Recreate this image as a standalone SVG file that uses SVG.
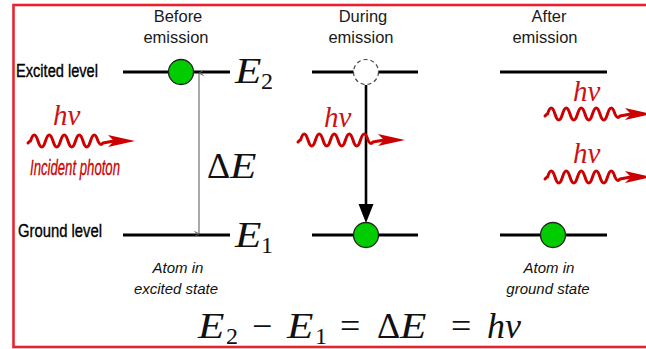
<svg xmlns="http://www.w3.org/2000/svg" width="646" height="349" viewBox="0 0 646 349">
<style>
.lvl{stroke:#000;stroke-width:3;fill:none}
.atom{fill:#00cc00;stroke:#222;stroke-width:1.3}
.hdr{font-family:"Liberation Sans",Arial,sans-serif;font-size:16.5px;fill:#1a1a1a;text-anchor:middle}
.cap{font-family:"Liberation Sans",Arial,sans-serif;font-size:15px;font-style:italic;fill:#111;text-anchor:middle}
.side{font-family:"Liberation Sans",Arial,sans-serif;font-size:17.5px;fill:#000;stroke:#000;stroke-width:0.35}
.math{font-family:"Liberation Serif","Times New Roman",serif;font-size:36px;fill:#111}
.it{font-style:italic}
.sub{font-size:24px}
.hv{font-family:"Liberation Serif","Times New Roman",serif;font-size:29px;font-style:italic;fill:#cc1111}
.wave{fill:none;stroke:#cc0000;stroke-width:3;stroke-linecap:round;stroke-linejoin:round}
</style>
<defs>
<g id="photon">
<path class="wave" d="M0,2 c1,-1 1.5,-2 2.5,-2 c2.5,-8 5,-8 7.5,0 s5,8 7.5,0 s5,-8 7.5,0 s5,8 7.5,0 s5,-8 7.5,0 s5,8 7.5,0 s5,-8 7.5,0 s5,8 7.5,0 s5,-8 7.5,0 c1.5,3.5 3,4.5 5,2 L86,0"/>
<polygon points="107,0 80,-6 86,0 80,6" fill="#cc0000"/>
</g>
<marker id="dh" viewBox="0 0 8 8" refX="4" refY="0.5" markerWidth="8" markerHeight="8" orient="auto-start-reverse" markerUnits="userSpaceOnUse">
<path d="M1.5,5 L4,0.5 L6.5,5" fill="none" stroke="#555" stroke-width="1"/>
</marker>
</defs>
<rect x="13.5" y="5" width="660" height="342" fill="#fff" stroke="#e8232f" stroke-width="2.6"/>

<g id="labels">
<text class="side" x="16" y="77" textLength="82" lengthAdjust="spacingAndGlyphs">Excited level</text>
<text class="side" x="18" y="237" textLength="84" lengthAdjust="spacingAndGlyphs">Ground level</text>
</g>

<g id="before">
<text class="hdr" x="178" y="22">Before</text>
<text class="hdr" x="176" y="43">emission</text>
<line class="lvl" x1="123" y1="72" x2="230" y2="72"/>
<line class="lvl" x1="123" y1="235" x2="230" y2="235"/>
<circle class="atom" cx="181" cy="72" r="12.5"/>
<text class="math it" transform="translate(235,83) scale(1.2,1)">E</text>
<text class="math sub" x="261" y="89">2</text>
<text class="math it" transform="translate(235,247) scale(1.2,1)">E</text>
<text class="math sub" x="261" y="253">1</text>
<text class="cap" x="178" y="273">Atom in</text>
<text class="cap" x="176" y="294">excited state</text>
</g>

<g id="during">
<text class="hdr" x="363" y="22">During</text>
<text class="hdr" x="361" y="43">emission</text>
<line class="lvl" x1="312" y1="72" x2="418" y2="72"/>
<circle cx="366" cy="72" r="12.5" fill="#fff" stroke="#444" stroke-width="1.2" stroke-dasharray="4,3"/>
<line class="lvl" x1="312" y1="235" x2="418" y2="235"/>
<circle class="atom" cx="366" cy="235" r="12.5"/>
</g>

<g id="after">
<text class="hdr" x="549" y="22">After</text>
<text class="hdr" x="545" y="43">emission</text>
<line class="lvl" x1="500" y1="72" x2="607" y2="72"/>
<line class="lvl" x1="500" y1="235" x2="607" y2="235"/>
<circle class="atom" cx="553" cy="235" r="12.5"/>
<text class="cap" x="549" y="273">Atom in</text>
<text class="cap" x="548" y="294">ground state</text>
</g>

<g id="connectors">
<line x1="199" y1="73" x2="199" y2="234" stroke="#555" stroke-width="1" marker-start="url(#dh)" marker-end="url(#dh)"/>
<text class="math" x="207" y="178">Δ</text>
<text class="math it" transform="translate(230,178) scale(1.2,1)">E</text>
<line x1="366" y1="85" x2="366" y2="208" stroke="#000" stroke-width="2.6"/>
<polygon points="366,223 358.5,204 373.5,204" fill="#000"/>
</g>

<g id="photon-incident">
<use href="#photon" x="28" y="141"/>
<text class="hv" x="53" y="125">hν</text>
<text x="30" y="175" textLength="90" lengthAdjust="spacingAndGlyphs" font-family="Liberation Sans, Arial, sans-serif" font-size="22" font-style="italic" fill="#cc0000" stroke="#cc0000" stroke-width="0.3">Incident photon</text>
</g>
<g id="photon-during">
<use href="#photon" x="298" y="140"/>
<text class="hv" x="324" y="127">hν</text>
</g>
<g id="photon-after-1">
<use href="#photon" x="545" y="114"/>
<text class="hv" x="573" y="101">hν</text>
</g>
<g id="photon-after-2">
<use href="#photon" x="545" y="177"/>
<text class="hv" x="573" y="163">hν</text>
</g>

<g id="equation">
<text class="math it" transform="translate(198,338) scale(1.2,1)">E</text>
<text class="math sub" x="226" y="344">2</text>
<text class="math" x="252" y="338">−</text>
<text class="math it" transform="translate(287,338) scale(1.2,1)">E</text>
<text class="math sub" x="315" y="344">1</text>
<text class="math" x="340" y="338">=</text>
<text class="math" x="377" y="338">Δ</text>
<text class="math it" transform="translate(400,338) scale(1.2,1)">E</text>
<text class="math" x="451" y="338">=</text>
<text class="math it" x="487" y="338">hν</text>
</g>
</svg>
